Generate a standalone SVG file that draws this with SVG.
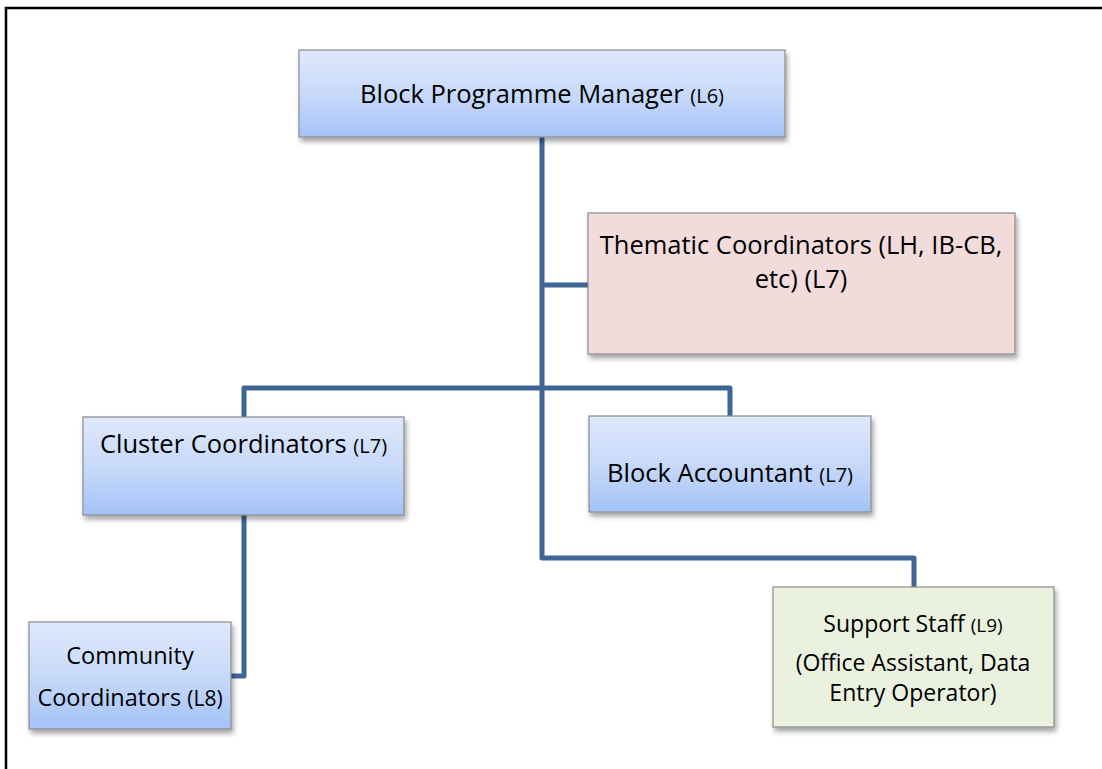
<svg xmlns="http://www.w3.org/2000/svg" width="1102" height="769" viewBox="0 0 1102 769">
<style>
.box{stroke:#8a8a8a;stroke-width:1.2;filter:url(#sh)}
.blue{fill:url(#gb)}
.pink{fill:#f2dcdb}
.green{fill:#ebf1df}
.t{font-family:"Open Sans","Liberation Sans",sans-serif;fill:#000;text-anchor:middle}
.c{fill:none;stroke:#3f6597;stroke-width:5;stroke-linejoin:round}
</style>
<defs>
<linearGradient id="gb" x1="0" y1="0" x2="0" y2="1">
<stop offset="0" stop-color="#dfe9fc"/>
<stop offset="0.5" stop-color="#c8dafa"/>
<stop offset="1" stop-color="#a4c2f7"/>
</linearGradient>
<filter id="sh" x="-10%" y="-10%" width="130%" height="140%">
<feDropShadow dx="2" dy="4" stdDeviation="2.5" flood-color="#000" flood-opacity="0.35"/>
</filter>
</defs>
<rect width="1102" height="769" fill="#fff"/>
<path d="M6,770 V8 H1103" fill="none" stroke="#000" stroke-width="2.5"/>
<g id="connectors">
<path class="c" d="M542,137 V558 H914 V587"/>
<path class="c" d="M542,285 H588"/>
<path class="c" d="M244,417 V388 H730 V416"/>
<path class="c" d="M244,515 V676 H231"/>
</g>
<g id="bpm">
<rect class="box blue" x="299" y="50" width="486" height="87"/>
<text class="t" x="542" y="103" font-size="25.5">Block Programme Manager <tspan font-size="20">(L6)</tspan></text>
</g>
<g id="thematic">
<rect class="box pink" x="588" y="213" width="427" height="141"/>
<text class="t" x="801" y="254" font-size="25.5">Thematic Coordinators (LH, IB-CB,</text>
<text class="t" x="801" y="288" font-size="25.5">etc) (L7)</text>
</g>
<g id="cluster">
<rect class="box blue" x="83" y="417" width="321" height="98"/>
<text class="t" x="243.5" y="453" font-size="25.5">Cluster Coordinators <tspan font-size="20">(L7)</tspan></text>
</g>
<g id="accountant">
<rect class="box blue" x="589" y="416" width="282" height="96"/>
<text class="t" x="730" y="482" font-size="25.5">Block Accountant <tspan font-size="20">(L7)</tspan></text>
</g>
<g id="community">
<rect class="box blue" x="29" y="622" width="202" height="107"/>
<text class="t" x="130" y="664" font-size="23.5">Community</text>
<text class="t" x="130" y="706" font-size="23.5">Coordinators <tspan font-size="21">(L8)</tspan></text>
</g>
<g id="support">
<rect class="box green" x="773" y="587" width="281" height="140"/>
<text class="t" x="913" y="632" font-size="23">Support Staff <tspan font-size="19">(L9)</tspan></text>
<text class="t" x="913" y="671" font-size="23">(Office Assistant, Data</text>
<text class="t" x="913" y="701" font-size="23">Entry Operator)</text>
</g>
</svg>
